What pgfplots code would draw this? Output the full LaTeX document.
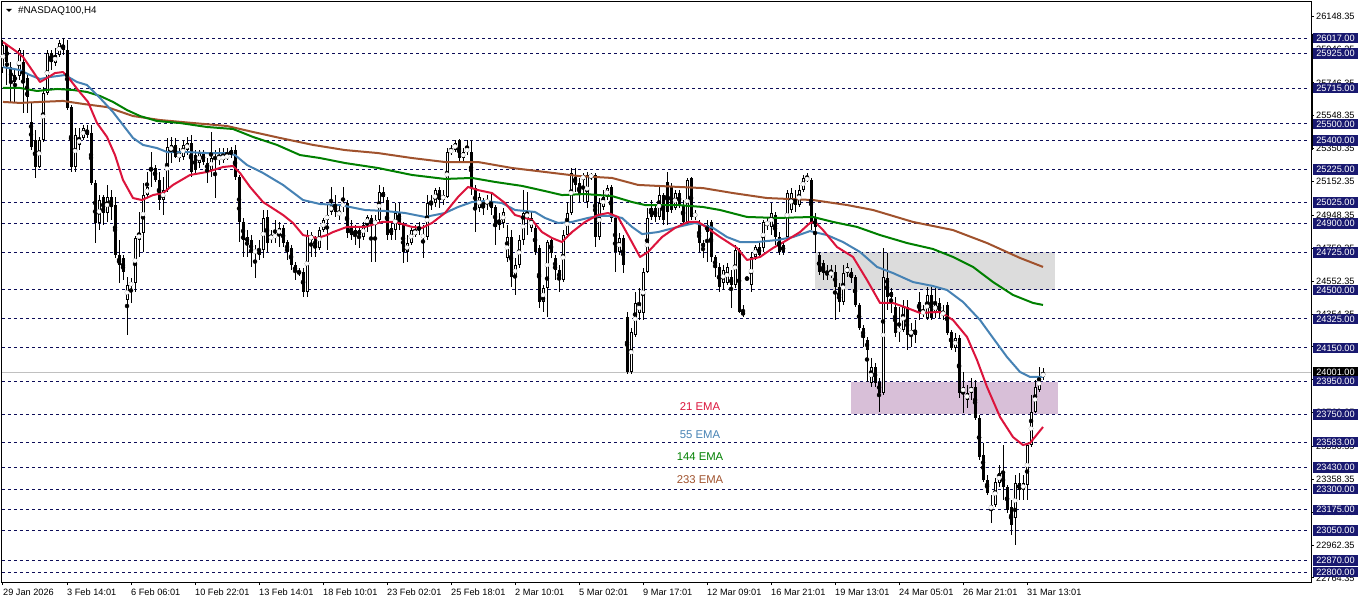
\documentclass[border=0pt]{standalone}
\usepackage{pgfplots}
\pgfplotsset{compat=1.18}
\usepackage{pgfplotstable}
\usepackage{fontspec}
\setmainfont{Liberation Sans}
\definecolor{emared}{RGB}{220,20,60}
\definecolor{emablue}{RGB}{70,130,180}
\definecolor{emagreen}{RGB}{0,128,0}
\definecolor{emabrown}{RGB}{160,82,45}
\definecolor{lvl}{RGB}{25,25,112}
\definecolor{lvldash}{RGB}{12,12,88}
\definecolor{zonegray}{RGB}{220,220,220}
\definecolor{zonepurple}{RGB}{216,191,216}
\definecolor{bidgray}{RGB}{192,192,192}
\newcommand\lbl{\fontsize{9.2}{11}\selectfont}
\newcommand\ttl{\fontsize{9.8}{11}\selectfont}
\newcommand\emafont{\fontsize{11.3}{13}\selectfont}
\newcommand\lvlbox[3][lvl]{\node[fill=#1,text=white,anchor=west,inner xsep=3.6pt,inner ysep=0pt,minimum height=10.5pt,font=\lbl] at ([xshift=1.5pt]axis cs:327,#2) {#3};}

\pgfplotstableread{
i o h l c
0 25836 26005 25806 25975
1 25975 25981 25734 25872
2 25842 25872 25632 25752
3 25794 25836 25632 25752
4 25788 25957 25764 25945
5 25872 25945 25565 25746
6 25776 25794 25565 25662
7 25511 25626 25342 25360
8 25403 25463 25174 25240
9 25240 25421 25234 25403
10 25403 25722 25391 25686
11 25686 25945 25674 25927
12 25927 25945 25824 25872
13 25866 25957 25848 25915
14 25915 26005 25903 25987
15 25975 26017 25915 25945
16 25945 26005 25583 25595
17 25601 25613 25210 25240
18 25240 25475 25210 25433
19 25373 25475 25342 25415
20 25415 25493 25403 25475
21 25463 25493 25415 25433
22 25445 25493 25132 25144
23 25144 25162 24782 24903
24 24903 25071 24860 25041
25 25059 25071 24891 24963
26 24963 25132 24909 25059
27 25059 25101 24921 24999
28 25011 25059 24692 24710
29 24710 24800 24541 24650
30 24692 24710 24559 24607
31 24439 24577 24228 24529
32 24529 24571 24421 24541
33 24541 24824 24487 24812
34 24800 24969 24698 24842
35 24842 25144 24728 25071
36 25071 25210 25059 25120
37 25234 25330 25120 25222
38 25234 25252 25150 25162
39 25162 25210 24981 25041
40 25041 25180 24951 25101
41 25101 25415 25089 25360
42 25330 25421 25264 25373
43 25373 25415 25294 25300
44 25294 25354 25270 25324
45 25300 25403 25282 25373
46 25342 25421 25312 25385
47 25385 25433 25180 25210
48 25312 25342 25192 25222
49 25264 25342 25234 25324
50 25324 25342 25252 25270
51 25264 25294 25144 25222
52 25222 25451 25180 25294
53 25300 25342 25053 25288
54 25288 25354 25252 25300
55 25282 25354 25264 25312
56 25294 25354 25282 25312
57 25342 25360 25294 25312
58 25342 25373 25162 25180
59 25180 25192 24788 24909
60 24909 24933 24698 24800
61 24818 24860 24698 24788
62 24800 24830 24638 24722
63 24722 24770 24571 24740
64 24740 24800 24680 24710
65 24740 24981 24692 24933
66 24939 24981 24728 24782
67 24812 24860 24782 24818
68 24818 24921 24782 24830
69 24830 24909 24758 24873
70 24873 24891 24758 24782
71 24788 24800 24680 24728
72 24752 24770 24620 24650
73 24650 24668 24559 24607
74 24607 24632 24583 24601
75 24607 24632 24457 24487
76 24487 24860 24457 24830
77 24800 24848 24698 24830
78 24812 24824 24698 24752
79 24752 24879 24740 24860
80 24860 24933 24848 24921
81 24921 25011 24740 24951
82 24969 25120 24951 25011
83 25011 25071 24939 24969
84 24951 25011 24921 24969
85 24999 25120 24969 25023
86 25023 25041 24812 24842
87 24873 24921 24800 24830
88 24860 24891 24770 24830
89 24860 24885 24752 24830
90 24818 24909 24800 24891
91 24891 24951 24848 24939
92 24933 24951 24668 24891
93 24891 24951 24668 24921
94 24921 25132 24909 25089
95 25089 25120 25023 25059
96 25041 25059 24800 24830
97 24873 24909 24800 24830
98 24860 25023 24800 24963
99 24963 25023 24860 24891
100 24891 24909 24662 24728
101 24728 24830 24668 24782
102 24782 24873 24770 24860
103 24830 24891 24818 24860
104 24879 24909 24830 24860
105 24818 24891 24692 24830
106 24818 25071 24800 25023
107 25029 25071 24981 25011
108 25023 25113 24999 25101
109 25101 25120 24993 25041
110 25041 25101 25011 25071
111 25059 25354 25053 25330
112 25330 25373 25312 25342
113 25342 25403 25330 25385
114 25403 25409 25264 25294
115 25294 25354 25270 25330
116 25330 25403 25312 25354
117 25330 25403 25071 25113
118 25113 25132 24848 24993
119 24993 25083 24969 25059
120 25029 25053 24951 24993
121 25023 25071 24981 25041
122 25029 25089 24951 24993
123 24999 25011 24770 24879
124 24921 24963 24860 24891
125 24903 24993 24873 24969
126 24692 24891 24668 24818
127 24818 24860 24517 24577
128 24577 24692 24469 24650
129 24650 24830 24632 24800
130 24800 25101 24770 24963
131 24933 25089 24830 24963
132 24873 24969 24848 24933
133 24873 24891 24710 24728
134 24752 24770 24391 24427
135 24427 24529 24367 24511
136 24511 24800 24336 24788
137 24800 24818 24692 24722
138 24692 24710 24559 24620
139 24620 24650 24487 24559
140 24559 24860 24547 24830
141 24830 25029 24812 24963
142 24963 25234 24951 25204
143 25180 25234 25089 25132
144 25144 25174 25029 25071
145 25162 25204 25029 25192
146 25029 25210 24993 25192
147 25180 25204 25162 25192
148 25192 25204 24758 24818
149 24818 25053 24800 25023
150 24999 25101 24981 25059
151 25059 25132 25041 25113
152 25120 25132 24909 24933
153 24933 24951 24607 24728
154 24728 24842 24710 24812
155 24812 24830 24601 24650
156 24336 24367 23995 24003
157 24003 24270 23993 24246
158 24228 24487 24216 24421
159 24361 24511 24318 24421
160 24361 24632 24318 24607
161 24607 24993 24600 24933
162 24993 25041 24921 24939
163 24993 25011 24909 24939
164 24939 25132 24921 25071
165 25071 25083 24891 24921
166 25150 25210 24891 24969
167 25120 25144 24963 24981
168 24993 25101 24981 25083
169 25083 25101 24993 25011
170 25011 25041 24891 24909
171 24909 25174 24891 25162
172 25174 25180 24921 24939
173 24939 24981 24921 24963
174 24903 24921 24728 24782
175 24782 24800 24692 24758
176 24891 24921 24668 24848
177 24909 24921 24668 24698
178 24698 24710 24577 24632
179 24638 24662 24487 24517
180 24541 24650 24499 24620
181 24541 24662 24529 24638
182 24577 24620 24391 24529
183 24529 24770 24511 24740
184 24740 24752 24361 24367
185 24367 24409 24336 24348
186 24571 24577 24559 24565
187 24529 24728 24487 24698
188 24698 24770 24680 24758
189 24758 24782 24692 24710
190 24752 24921 24728 24909
191 24891 24933 24860 24909
192 24879 25023 24830 24963
193 24951 24969 24770 24818
194 24818 24848 24710 24728
195 24770 24788 24710 24728
196 24818 25101 24800 25083
197 24981 25113 24963 25083
198 25041 25101 24969 25011
199 25011 25132 24999 25101
200 25101 25192 25089 25174
201 25162 25204 25150 25174
202 25162 25174 24860 24909
203 24933 24963 24722 24879
204 24710 24728 24589 24607
205 24662 24680 24559 24601
206 24607 24650 24559 24589
207 24589 24650 24571 24607
208 24607 24650 24318 24517
209 24517 24541 24367 24427
210 24427 24650 24409 24601
211 24601 24662 24577 24638
212 24607 24632 24541 24571
213 24577 24589 24397 24409
214 24409 24421 24258 24270
215 24270 24288 24156 24210
216 24198 24216 23945 24138
217 23939 24089 23915 24035
218 24035 24059 23915 23939
219 23945 23969 23764 23879
220 23879 24752 23867 24577
221 24571 24722 24379 24457
222 24487 24511 24361 24457
223 24397 24457 24216 24240
224 24246 24397 24186 24270
225 24258 24439 24246 24397
226 24397 24439 24138 24228
227 24228 24300 24156 24258
228 24258 24318 24180 24228
229 24427 24487 24318 24367
230 24361 24409 24336 24367
231 24330 24517 24318 24469
232 24469 24517 24318 24330
233 24361 24511 24330 24421
234 24421 24451 24330 24367
235 24348 24409 24318 24367
236 24409 24427 24228 24240
237 24246 24258 24138 24150
238 24150 24240 24126 24210
239 24210 24228 23848 23879
240 23879 24005 23758 23915
241 23836 23927 23788 23879
242 23879 23969 23836 23915
243 23915 23957 23716 23728
244 23728 23746 23475 23493
245 23505 23577 23342 23354
246 23354 23385 23264 23276
247 23174 23264 23095 23204
248 23204 23367 23192 23342
249 23336 23445 23312 23397
250 23397 23565 23234 23312
251 23312 23324 23156 23174
252 23192 23234 23023 23083
253 23126 23385 22963 23336
254 23336 23397 23234 23294
255 23294 23385 23234 23336
256 23324 23577 23234 23565
257 23565 23867 23553 23764
258 23764 23957 23758 23915
259 23897 24035 23885 23975
260 23975 24029 23957 24001
}\candles

\begin{document}
\begin{tikzpicture}
\fill[white] (0,0) rectangle (1362pt,603pt);
\path[use as bounding box] (0,0) rectangle (1362pt,603pt);
\begin{axis}[
  at={(2pt,21pt)}, anchor=south west,
  scale only axis, width=1309pt, height=580pt,
  xmin=-0.25, xmax=327, ymin=22740, ymax=26234,
  clip=false,
  axis line style={black, line width=1pt},
  tick align=outside, major tick length=3pt,
  tick style={black, line width=1pt},
  xtick pos=left, ytick pos=right, yticklabel pos=right,
  xtick={0,16,32,48,64,80,96,112,128,144,160,176,192,208,224,240,256},
  xticklabels={29 Jan 2026,3 Feb 14:01,6 Feb 06:01,10 Feb 22:01,13 Feb 14:01,18 Feb 10:01,23 Feb 02:01,25 Feb 18:01,2 Mar 10:01,5 Mar 02:01,9 Mar 17:01,12 Mar 09:01,16 Mar 21:01,19 Mar 13:01,24 Mar 05:01,26 Mar 21:01,31 Mar 13:01},
  xticklabel style={anchor=base west, inner sep=0pt, font=\lbl},
  xticklabel shift=10pt,
  ytick={22764.35,22962.35,23160.35,23358.35,23556.35,23760.35,23958.35,24156.35,24354.35,24552.35,24750.35,24948.35,25152.35,25350.35,25548.35,25746.35,25946.35,26148.35},
  yticklabels={22764.35,22962.35,23160.35,23358.35,23556.35,23760.35,23958.35,24156.35,24354.35,24552.35,24750.35,24948.35,25152.35,25350.35,25548.35,25746.35,25946.35,26148.35},
  yticklabel style={anchor=west, inner sep=0pt, font=\lbl},
  yticklabel shift=2pt,
  after end axis/.code={
    \lvlbox{26017}{26017.00}
    \lvlbox{25925}{25925.00}
    \lvlbox{25715}{25715.00}
    \lvlbox{25500}{25500.00}
    \lvlbox{25400}{25400.00}
    \lvlbox{25225}{25225.00}
    \lvlbox{25025}{25025.00}
    \lvlbox{24900}{24900.00}
    \lvlbox{24725}{24725.00}
    \lvlbox{24500}{24500.00}
    \lvlbox{24325}{24325.00}
    \lvlbox{24150}{24150.00}
    \lvlbox[black]{24001}{24001.00}
    \lvlbox{23950}{23950.00}
    \lvlbox{23750}{23750.00}
    \lvlbox{23583}{23583.00}
    \lvlbox{23430}{23430.00}
    \lvlbox{23300}{23300.00}
    \lvlbox{23175}{23175.00}
    \lvlbox{23050}{23050.00}
    \lvlbox{22870}{22870.00}
    \lvlbox{22800}{22800.00}
    \draw[black, line width=2pt] ([xshift=1.2pt]axis cs:327,26044) -- ([xshift=1.2pt]axis cs:327,25342);
  }
]
% zones
\addplot[forget plot, fill=zonegray, draw=none] coordinates {(203,24500) (263,24500) (263,24725) (203,24725)} -- cycle;
\addplot[forget plot, fill=zonepurple, draw=none] coordinates {(212,23752) (263.75,23752) (263.75,23945) (212,23945)} -- cycle;
% level lines
\pgfplotsinvokeforeach{26017,25925,25715,25500,25400,25225,25025,24900,24725,24500,24325,24150,23950,23750,23583,23430,23300,23175,23050,22870,22800}{
  \addplot[forget plot, lvldash, line width=1pt, dash pattern=on 3pt off 3pt] coordinates {(-0.25,#1) (326.5,#1)};
}
% bid line
\addplot[forget plot, bidgray, line width=1pt] coordinates {(-0.25,24001) (327,24001)};
% wicks
\addplot[forget plot, black, only marks, mark=none,
  error bars/.cd, y dir=both, y explicit, error mark=none,
  error bar style={black, line width=1pt}]
  table[x=i, y expr={(\thisrow{h}+\thisrow{l})/2}, y error expr={(\thisrow{h}-\thisrow{l})/2}] {\candles};
% bodies
\addplot[forget plot, black, only marks, mark=none,
  error bars/.cd, y dir=both, y explicit, error mark=none,
  error bar style={black, line width=3pt}]
  table[x=i, y expr={(\thisrow{o}+\thisrow{c})/2}, y error expr={max(abs(\thisrow{o}-\thisrow{c})/2,3.2)}] {\candles};
% white interior of rising candles
\addplot[forget plot, white, only marks, mark=none, restrict y to domain=20000:30000,
  error bars/.cd, y dir=both, y explicit, error mark=none,
  error bar style={white, line width=1pt}]
  table[x=i, y expr={ifthenelse(\thisrow{c}>\thisrow{o},(\thisrow{o}+\thisrow{c})/2,0)}, y error expr={max((\thisrow{c}-\thisrow{o})/2-6.024,0)}] {\candles};
% EMA 233
\addplot[emabrown, line width=2pt, line join=round] coordinates {(0,25632) (4.25,25626) (9.25,25632) (15,25638) (20,25620) (26,25601) (32.5,25547) (39.25,25523) (47.5,25505) (56,25487) (62.5,25451) (69.25,25415) (77.5,25373) (85.5,25342) (93.75,25324) (102.25,25294) (110.5,25270) (118.75,25270) (127.25,25234) (135.5,25210) (143.75,25186) (152.25,25174) (158.75,25132) (168.75,25120) (175,25113) (182.5,25083) (191,25053) (202.5,25041) (211,25011) (217.5,24981) (227.5,24909) (237.5,24860) (246,24782) (254.25,24692) (260,24638)};
% EMA 144
\addplot[emagreen, line width=2pt, line join=round] coordinates {(0,25716) (4.25,25716) (8.5,25698) (13.5,25710) (17.5,25704) (21,25692) (24.25,25668) (27.5,25632) (31,25583) (34.25,25547) (38.5,25517) (44.25,25505) (51,25481) (57.5,25469) (62.5,25421) (68.5,25373) (74.25,25312) (79.25,25294) (85.5,25264) (93.75,25234) (102.25,25192) (110.5,25168) (117.25,25174) (123,25150) (129.75,25126) (135.5,25095) (139.75,25071) (145.5,25077) (152.25,25065) (157.25,25029) (160.5,25011) (168.75,25011) (175,24999) (179.25,24981) (186,24939) (193.5,24933) (202.5,24939) (207.5,24909) (213.5,24879) (219.25,24830) (226,24782) (232.5,24746) (237.5,24698) (242.5,24638) (247.5,24547) (252.5,24469) (257.5,24421) (260,24409)};
% EMA 55
\addplot[emablue, line width=2pt, line join=round] coordinates {(0,25842) (4.25,25824) (6.75,25794) (9.25,25770) (11.75,25782) (15.5,25794) (18.5,25752) (21,25734) (24.25,25656) (27.5,25571) (30,25493) (32.5,25415) (35,25373) (38.5,25354) (41,25330) (46,25330) (51,25324) (56,25324) (58,25312) (61,25252) (65,25204) (70,25132) (75,25041) (79.25,25017) (84.25,25011) (90.5,24981) (95.5,24975) (100.5,24963) (105.5,24939) (110.5,24963) (113.75,24999) (117.25,25029) (120.5,25035) (124.75,25023) (128,24981) (133,24969) (135.5,24933) (138.75,24903) (142.25,24909) (146.25,24933) (148.75,24945) (152.25,24945) (154.75,24933) (157.25,24879) (159.75,24836) (163.75,24848) (168.75,24879) (173,24903) (177.5,24873) (181,24818) (184.25,24788) (188.5,24788) (193.5,24800) (197.5,24818) (201.75,24854) (206,24830) (210,24788) (214.25,24728) (218.5,24638) (222.5,24601) (227.5,24547) (232.5,24523) (236,24499) (240,24427) (244.25,24318) (247.5,24210) (251,24095) (254.25,24005) (256.75,23975) (260,23975)};
% EMA 21
\addplot[emared, line width=2pt, line join=round] coordinates {(0,25993) (3.5,25933) (5,25903) (7.25,25824) (9.25,25752) (11,25776) (13,25806) (15,25812) (16.25,25782) (18.75,25704) (21.25,25632) (23.5,25505) (26,25421) (28,25312) (30,25162) (32.5,25053) (34.75,25041) (37.5,25071) (40,25083) (42.5,25132) (46.75,25192) (51,25210) (55,25240) (57.5,25246) (59.25,25204) (61.75,25120) (65,25029) (70,24951) (72.5,24903) (75,24830) (78.5,24812) (81,24830) (82.5,24848) (86,24879) (90.5,24879) (94.75,24909) (98,24909) (102.25,24879) (104.75,24873) (107.25,24903) (110.5,24963) (113.75,25059) (116.25,25120) (118.75,25101) (122.25,25083) (125.5,25023) (128,24951) (132.25,24921) (134.75,24848) (137.25,24812) (139.75,24788) (142.25,24848) (145.5,24909) (148.75,24951) (151.25,24963) (153.75,24939) (156.25,24830) (159.25,24698) (161.25,24728) (164.75,24818) (168,24873) (171.25,24909) (173.75,24909) (175,24891) (179.25,24818) (183.5,24752) (186,24680) (189.25,24698) (192.5,24752) (196,24800) (199.25,24848) (201.75,24903) (203,24909) (205,24860) (208.5,24758) (212.5,24698) (216,24559) (219.25,24421) (222.5,24421) (226,24391) (229.25,24361) (234.25,24367) (237.5,24318) (241,24216) (243.5,24077) (246,23915) (249.25,23734) (252.5,23613) (255,23565) (256.75,23577) (260,23674)};
% EMA labels
\node[text=emared, font=\emafont] at (axis cs:174.25,23794) {21 EMA};
\node[text=emablue, font=\emafont] at (axis cs:174.25,23626) {55 EMA};
\node[text=emagreen, font=\emafont] at (axis cs:174.25,23493) {144 EMA};
\node[text=emabrown, font=\emafont] at (axis cs:174.25,23354) {233 EMA};
\end{axis}
\fill[black] (6pt,594pt) -- (12pt,594pt) -- (9pt,591pt) -- cycle;
\node[anchor=west, inner sep=0pt, font=\ttl] at (18pt,592pt) {\#NASDAQ100,H4};
\end{tikzpicture}
\end{document}
